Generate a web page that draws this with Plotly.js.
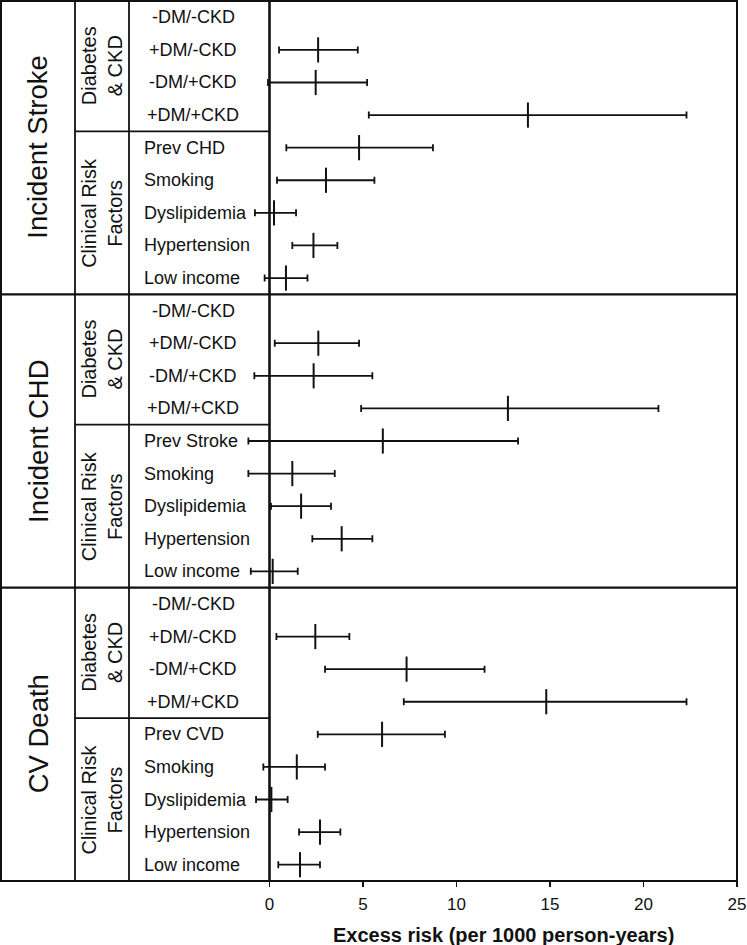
<!DOCTYPE html>
<html>
<head>
<meta charset="utf-8">
<script src="https://cdn.plot.ly/plotly-3.0.1.min.js"></script>
<style>html,body{margin:0;padding:0;background:#fff;}#chart{width:747px;height:945px;}</style>
</head>
<body>
<div id="chart"></div>
<script>
// ---- data ----
const panelTitles = ["Incident Stroke", "Incident CHD", "CV Death"];
const groupLabels = ["Diabetes<br>& CKD", "Clinical Risk<br>Factors"];
const dmLabels = ["-DM/-CKD", "+DM/-CKD", "-DM/+CKD", "+DM/+CKD"];
const strokeFactors = ["Prev CHD", "Smoking", "Dyslipidemia", "Hypertension", "Low income"];
const chdFactors = ["Prev Stroke", "Smoking", "Dyslipidemia", "Hypertension", "Low income"];
const cvdFactors = ["Prev CVD", "Smoking", "Dyslipidemia", "Hypertension", "Low income"];

const strokeEst  = [null, 2.60, 2.47, 13.82, 4.79, 3.02, 0.24, 2.35, 0.88];
const strokeLow  = [null, 0.51, -0.08, 5.31, 0.90, 0.40, -0.78, 1.22, -0.26];
const strokeHigh = [null, 4.72, 5.22, 22.30, 8.74, 5.61, 1.42, 3.63, 2.03];

const chdEst  = [null, 2.61, 2.36, 12.75, 6.06, 1.22, 1.69, 3.86, 0.17];
const chdLow  = [null, 0.28, -0.81, 4.90, -1.13, -1.13, 0.08, 2.29, -1.00];
const chdHigh = [null, 4.79, 5.50, 20.80, 13.29, 3.49, 3.29, 5.50, 1.51];

const cvdEst  = [null, 2.45, 7.33, 14.80, 6.02, 1.46, 0.10, 2.70, 1.63];
const cvdLow  = [null, 0.37, 2.97, 7.18, 2.58, -0.33, -0.72, 1.58, 0.47];
const cvdHigh = [null, 4.27, 11.50, 22.30, 9.38, 2.97, 0.97, 3.79, 2.70];

const xTicks = [0, 5, 10, 15, 20, 25];
const xTitle = "Excess risk (per 1000 person-years)";

// ---- layout constants ----
const W = 747, H = 945;
const M = {l: 1, r: 10, t: 1, b: 64};
const plotW = W - M.l - M.r;
const plotH = H - M.t - M.b;
const zeroPx = 269.5;
const pxPerUnit = (737 - zeroPx) / 25;
const xMin = -(zeroPx - M.l) / pxPerUnit;
const px2p = px => (px - M.l) / plotW;
const ink = "#111";
const FONT = "Liberation Sans, Arial, sans-serif";

const panels = [
  {est: strokeEst, low: strokeLow, high: strokeHigh, factors: strokeFactors},
  {est: chdEst, low: chdLow, high: chdHigh, factors: chdFactors},
  {est: cvdEst, low: cvdLow, high: cvdHigh, factors: cvdFactors}
];
const rowsPer = 9;
const nRows = rowsPer * panels.length;

const traces = [];
const shapes = [];
const annotations = [];

panels.forEach((p, k) => {
  const base = k * rowsPer;
  const ys = p.est.map((_, i) => base + i + 0.5);
  traces.push({
    type: "scatter", mode: "markers",
    x: p.est, y: ys,
    marker: {symbol: "line-ns", size: 18, color: ink, line: {width: 2, color: ink}},
    error_x: {
      type: "data", symmetric: false,
      array: p.est.map((v, i) => v == null ? null : p.high[i] - v),
      arrayminus: p.est.map((v, i) => v == null ? null : v - p.low[i]),
      color: ink, thickness: 1.8, width: 3.5
    },
    showlegend: false, hoverinfo: "skip", cliponaxis: false
  });
  annotations.push({xref: "paper", yref: "y", x: px2p(38), y: base + rowsPer / 2,
    text: panelTitles[k], textangle: -90, showarrow: false,
    font: {family: FONT, size: 27.5, color: ink}, xanchor: "center", yanchor: "middle"});
  annotations.push({xref: "paper", yref: "y", x: px2p(102), y: base + 2,
    text: groupLabels[0], textangle: -90, showarrow: false,
    font: {family: FONT, size: 20, color: ink}, xanchor: "center", yanchor: "middle"});
  annotations.push({xref: "paper", yref: "y", x: px2p(102), y: base + 6.5,
    text: groupLabels[1], textangle: -90, showarrow: false,
    font: {family: FONT, size: 20, color: ink}, xanchor: "center", yanchor: "middle"});
  dmLabels.forEach((lab, i) => {
    annotations.push({xref: "paper", yref: "y", x: px2p(193), y: base + i + 0.5,
      text: lab, showarrow: false, font: {family: FONT, size: 18, color: ink},
      xanchor: "center", yanchor: "middle"});
  });
  p.factors.forEach((lab, i) => {
    annotations.push({xref: "paper", yref: "y", x: px2p(142), y: base + 4 + i + 0.5,
      text: lab, showarrow: false, font: {family: FONT, size: 18, color: ink},
      xanchor: "left", yanchor: "middle"});
  });
  shapes.push({type: "line", xref: "paper", yref: "y", x0: px2p(75), x1: px2p(zeroPx),
    y0: base + 4, y1: base + 4, line: {color: ink, width: 1.8}});
  if (k > 0) {
    shapes.push({type: "line", xref: "paper", yref: "y", x0: 0, x1: 1,
      y0: base, y1: base, line: {color: ink, width: 2.2}});
  }
});

shapes.push({type: "rect", xref: "paper", yref: "paper", x0: 0, x1: 1, y0: 0, y1: 1,
  line: {color: ink, width: 2}});
[75, 129].forEach(px => shapes.push({type: "line", xref: "paper", yref: "paper",
  x0: px2p(px), x1: px2p(px), y0: 0, y1: 1, line: {color: ink, width: 1.8}}));
shapes.push({type: "line", xref: "x", yref: "paper", x0: 0, x1: 0, y0: 0, y1: 1,
  line: {color: ink, width: 2.6}});

annotations.push({xref: "x", yref: "paper", x: 12.5, y: -(935 - (M.t + plotH)) / plotH,
  text: "<b>" + xTitle + "</b>", showarrow: false,
  font: {family: FONT, size: 20, color: ink}, xanchor: "center", yanchor: "middle"});

const layout = {
  width: W, height: H, margin: M,
  paper_bgcolor: "#fff", plot_bgcolor: "#fff",
  xaxis: {range: [xMin, 25], tickvals: xTicks, ticktext: xTicks.map(String),
    ticks: "outside", ticklen: 5, tickwidth: 1.5, tickcolor: ink,
    showgrid: false, zeroline: false, showline: false, ticklabelstandoff: 3,
    tickfont: {family: FONT, size: 17, color: ink}, fixedrange: true},
  yaxis: {range: [nRows, 0], showgrid: false, zeroline: false, showticklabels: false,
    ticks: "", showline: false, fixedrange: true},
  shapes: shapes, annotations: annotations, showlegend: false
};

Plotly.newPlot("chart", traces, layout, {staticPlot: true, displayModeBar: false});
</script>
</body>
</html>
